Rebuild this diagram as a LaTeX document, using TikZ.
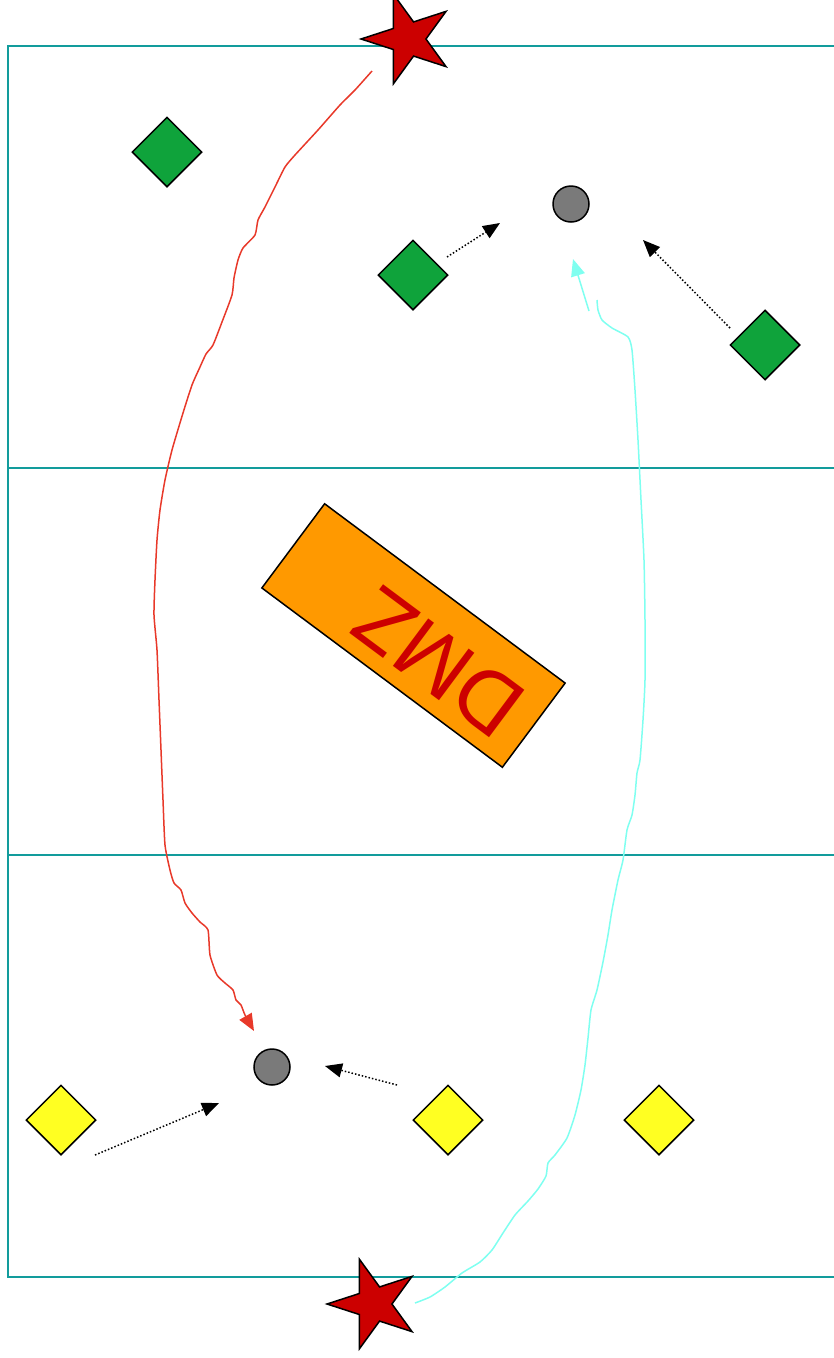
\documentclass[tikz,border=0pt]{standalone}
\usepackage{fontspec}
\setsansfont{Liberation Sans}
\usetikzlibrary{shapes.geometric, arrows.meta, positioning}

\definecolor{pitch}{HTML}{129C9C}
\definecolor{teamgreen}{HTML}{0FA33B}
\definecolor{teamyellow}{HTML}{FFFF22}
\definecolor{ballgrey}{HTML}{7A7A7A}
\definecolor{starred}{HTML}{CC0000}
\definecolor{zoneorange}{HTML}{FF9900}
\definecolor{runred}{HTML}{E8392A}
\definecolor{runcyan}{HTML}{7FFFF0}

\begin{document}
\begin{tikzpicture}[x=1pt, y=-1pt, line join=miter,
    player/.style={draw, diamond, minimum size=70pt, inner sep=0pt, line width=1.5pt},
    ball/.style={draw, circle, fill=ballgrey, minimum size=36pt, inner sep=0pt, line width=1.5pt},
    goal/.style={draw, star, star points=5, star point ratio=2.618, shape border rotate=90,
                 fill=starred, minimum size=94pt, inner sep=0pt, line width=1.5pt},
    pass/.style={dotted, line width=1.5pt, -{Triangle[length=17pt, width=14pt]}},
    run/.style={line width=1.5pt}]
    \useasboundingbox (0,0) rectangle (834,1358);

    % Field
    \begin{scope}
        \clip (0,0) rectangle (834,1358);
        \draw[pitch, line width=2pt] (8,46) rectangle (860,1277);
        \draw[pitch, line width=2pt] (8,468) -- (860,468);
        \draw[pitch, line width=2pt] (8,855) -- (860,855);
    \end{scope}

    % Nodes
    \node[player, fill=teamgreen] (g1) at (167,152) {};
    \node[player, fill=teamgreen] (g2) at (413,275) {};
    \node[player, fill=teamgreen] (g3) at (765,345) {};
    \node[player, fill=teamyellow] (y1) at (61,1120) {};
    \node[player, fill=teamyellow] (y2) at (448,1120) {};
    \node[player, fill=teamyellow] (y3) at (659,1120) {};
    \node[ball] (ball1) at (571,204) {};
    \node[ball] (ball2) at (272,1067) {};
    \node[draw, rectangle, fill=zoneorange, line width=1.5pt, minimum width=300pt, minimum height=105pt,
          inner sep=0pt, text=starred, font=\sffamily\fontsize{86}{90}\selectfont, rotate=143.3]
          (dmz) at (413.5,635.5) {\raisebox{14pt}{DMZ}\hspace*{72pt}};

    % Passes
    \draw[pass] ([shift={(34,-18)}]g2.center) -- ([shift={(-71,19)}]ball1.center);
    \draw[pass] ([shift={(-35,-17)}]g3.center) -- ([shift={(72,36)}]ball1.center);
    \draw[pass] ([shift={(34,35)}]y1.center) -- ([shift={(-53,36)}]ball2.center);
    \draw[pass] ([shift={(-51,-35)}]y2.center) -- ([shift={(53,-1)}]ball2.center);

    % Runs
    \node[goal] (star1) at (408,39) {};
    \node[goal] (star2) at (374,1304) {};
    \draw[run, runred, -{Triangle[length=17pt, width=14pt]}] plot[smooth, tension=.35] coordinates {
        ([shift={(-36,32)}]star1.center) (355,90) (340,105) (318,130) (295,155) (285,167) (275,187)
        (265,207) (258,220) (255,235) (243,248) (238,260) (234,278) (232,295) (222,322) (213,345)
        (206,354) (200,367) (192,385) (183,413) (172,450) (165,480) (160,510) (157,540) (155,580)
        (154,615) (157,650) (159,700) (161,750) (163,800) (165,845) (170,870) (174,883) (181,890)
        (185,903) (192,913) (200,922) (208,930) (210,955) (217,975) (225,983) (233,990) (236,1000)
        (241,1005) (245,1015) ([shift={(-18,-36)}]ball2.center)};
    \draw[run, runcyan] plot[smooth, tension=.35] coordinates {
        ([shift={(41,-1)}]star2.center) (430,1297) (445,1287) (462,1273) (480,1262) (492,1250)
        (503,1233) (515,1215) (528,1201) (538,1189) (546,1176) (548,1163) (555,1155) (567,1138)
        (575,1115) (581,1090) (585,1065) (588,1038) (591,1010) (597,990) (603,962) (608,935)
        (612,910) (618,880) (623,860) (627,830) (632,815) (635,795) (637,773) (640,760) (643,720)
        (645,680) (645,620) (644,560) (641,500) (638,440) (635,390) (632,350) (628,337) (612,328)
        (602,320) (598,310) ([shift={(26,96)}]ball1.center)};
    \draw[run, runcyan, -{Triangle[length=17pt, width=14pt]}]
        ([shift={(18,107)}]ball1.center) -- ([shift={(2,55)}]ball1.center);
\end{tikzpicture}
\end{document}
